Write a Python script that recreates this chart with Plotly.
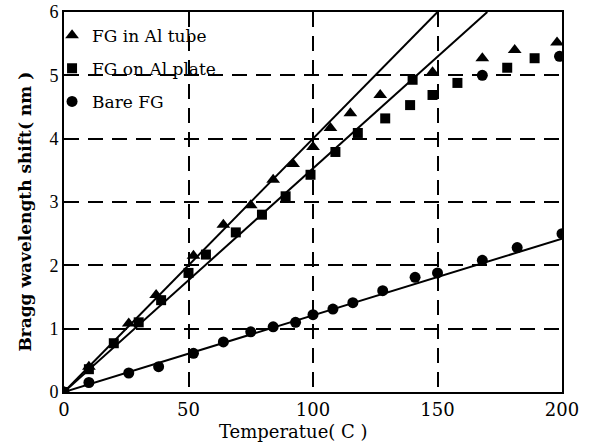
import plotly.graph_objects as go

# FG in Al tube (triangles)
tube_T = [0, 10, 26, 37, 52, 64, 75, 84, 92, 100, 107, 115, 127, 148, 168, 181, 198]
tube_shift = [0, 0.4, 1.08, 1.53, 2.15, 2.64, 2.95, 3.35, 3.6, 3.87, 4.17, 4.4, 4.69, 5.05, 5.27, 5.4, 5.52]

# FG on Al plate (squares)
plate_T = [0, 10, 20, 30, 39, 50, 57, 69, 79.5, 89, 99, 109, 118, 129, 139, 140, 148, 158, 178, 189]
plate_shift = [0, 0.36, 0.77, 1.1, 1.45, 1.88, 2.17, 2.52, 2.8, 3.09, 3.43, 3.79, 4.09, 4.32, 4.53, 4.93, 4.69, 4.88, 5.12, 5.27]

# Bare FG (circles)
bare_T = [0, 10, 26, 38, 52, 64, 75, 84, 93, 100, 108, 116, 128, 141, 150, 168, 182, 200]
bare_shift = [0, 0.15, 0.3, 0.4, 0.61, 0.79, 0.95, 1.03, 1.1, 1.22, 1.31, 1.41, 1.6, 1.81, 1.88, 2.08, 2.28, 2.5]
extra_T = [168, 199]
extra_shift = [5.0, 5.3]

# fitted straight lines
tube_fit_T = [0, 150]
tube_fit = [0, 6]
plate_fit_T = [0, 170]
plate_fit = [0, 6]
bare_fit_T = [0, 200]
bare_fit = [0, 2.42]

x_ticks = [0, 50, 100, 150, 200]
y_ticks = [0, 1, 2, 3, 4, 5, 6]

SERIF = "Liberation Serif"
WIDE = "DejaVu Serif"
fig = go.Figure()
for xs, ys in [(tube_fit_T, tube_fit), (plate_fit_T, plate_fit), (bare_fit_T, bare_fit)]:
    fig.add_trace(go.Scatter(x=xs, y=ys, mode="lines", line=dict(color="black", width=2),
                             showlegend=False, hoverinfo="skip"))

fig.add_trace(go.Scatter(x=tube_T, y=tube_shift, mode="markers", name="FG in Al tube", legendgroup="a",
                         marker=dict(symbol="triangle-up", size=12, color="black")))
fig.add_trace(go.Scatter(x=plate_T, y=plate_shift, mode="markers", name="FG on Al plate", legendgroup="b",
                         marker=dict(symbol="square", size=10, color="black")))
fig.add_trace(go.Scatter(x=bare_T, y=bare_shift, mode="markers", name="Bare FG", legendgroup="c",
                         marker=dict(symbol="circle", size=11, color="black")))
fig.add_trace(go.Scatter(x=extra_T, y=extra_shift, mode="markers", showlegend=False,
                         marker=dict(symbol="circle", size=11, color="black")))

axis_common = dict(showline=True, linecolor="black", linewidth=2, mirror=True,
                   showgrid=True, gridcolor="black", griddash="15px,9px", gridwidth=2,
                   zeroline=False, ticks="", automargin=False, ticklabelstandoff=0)

fig.update_xaxes(range=[0, 200], tickvals=x_ticks, ticktext=[str(v) for v in x_ticks],
                 tickfont=dict(family=WIDE, size=18, color="black"), **axis_common)
fig.update_yaxes(range=[0, 6], tickvals=y_ticks, ticktext=[str(v) for v in y_ticks],
                 tickfont=dict(family=SERIF, size=18, color="black"), **axis_common)

fig.add_annotation(text="Temperatue( C )", xref="paper", yref="paper", x=0.46, y=-0.072,
                   xanchor="center", yanchor="top", showarrow=False,
                   font=dict(family=WIDE, size=18, color="black"))
fig.add_annotation(text="<b>Bragg wavelength shift( nm )</b>", xref="paper", yref="paper",
                   x=-0.056, y=0.475, xanchor="right", yanchor="middle", textangle=-90, showarrow=False,
                   font=dict(family=WIDE, size=17, color="black"))

fig.update_layout(
    width=598, height=446,
    margin=dict(l=64, r=36, t=12, b=54),
    paper_bgcolor="white", plot_bgcolor="white",
    font=dict(family=SERIF, color="black"),
    legend=dict(x=-0.024, y=0.985, xanchor="left", yanchor="top",
                bgcolor="rgba(0,0,0,0)", font=dict(family=WIDE, size=17, color="black"),
                itemwidth=30, tracegroupgap=8),
)

fig.write_html("out.html", config={"displayModeBar": False},
               post_script="document.body.style.margin='0';")
